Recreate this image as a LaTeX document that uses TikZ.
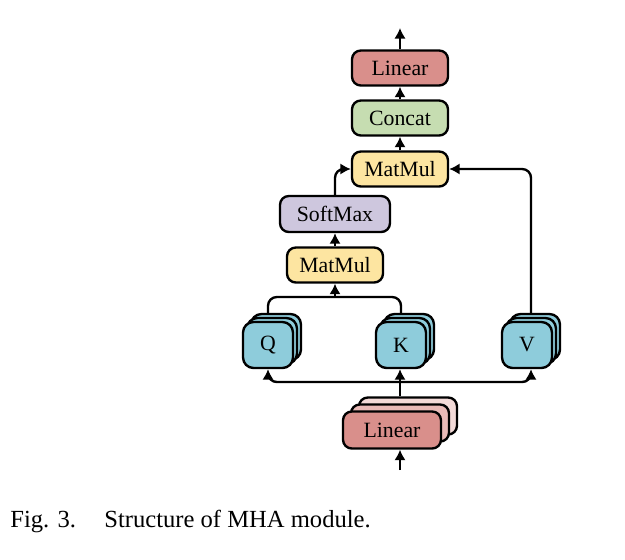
\documentclass[tikz,border=0pt]{standalone}
\usepackage{fontspec}
\setmainfont{Liberation Serif}
\usetikzlibrary{arrows.meta}
\definecolor{cred}{HTML}{D98F8B}
\definecolor{cred2}{HTML}{E9BAB7}
\definecolor{cred3}{HTML}{F3DAD8}
\definecolor{cgreen}{HTML}{C6DDB1}
\definecolor{cyellow}{HTML}{FDE5A1}
\definecolor{cpurple}{HTML}{CEC7DE}
\definecolor{cblue}{HTML}{8ECCDB}
\tikzset{
  blk/.style={draw=black, line width=1.35pt, rounded corners=5pt, inner sep=0pt,
    font=\fontsize{12.4}{14}\selectfont, minimum width=1.92cm, minimum height=0.70cm},
  qkv/.style={blk, fill=cblue, minimum width=1.0cm, minimum height=0.92cm, rounded corners=6pt},
  conn/.style={line width=1.35pt, rounded corners=5pt},
  arr/.style={conn, -{Latex[length=6pt,width=6.5pt]}},
}
\begin{document}
\begin{tikzpicture}[x=0.02cm,y=-0.02cm]
\useasboundingbox (0,0) rectangle (625,559);
% top stack
\node[blk, fill=cred] (lin2) at (400,68) {Linear};
\node[blk, fill=cgreen] (cat) at (400,118) {Concat};
\node[blk, fill=cyellow] (mm2) at (400,169) {MatMul};
\node[blk, fill=cpurple, minimum width=2.2cm, minimum height=0.72cm] (sm) at (335,214) {SoftMax};
\node[blk, fill=cyellow] (mm1) at (335,265) {MatMul};
% Q K V stacks
\foreach \n/\x in {q/268,k/401,v/527}{
  \node[qkv] (\n3) at (\x+8,337) {};
  \node[qkv] (\n2) at (\x+4,341) {};
}
\node[qkv] (q) at (268,345) {Q};
\node[qkv] (k) at (401,345) {K};
\node[qkv] (v) at (527,345) {V};
% bottom linear stack
\node[blk, fill=cred3, minimum width=1.96cm, minimum height=0.74cm] (lin1c) at (408,416) {};
\node[blk, fill=cred2, minimum width=1.96cm, minimum height=0.74cm] (lin1b) at (400,423) {};
\node[blk, fill=cred, minimum width=1.96cm, minimum height=0.74cm] (lin1) at (392,430) {Linear};
\coordinate (in) at (400,470);
\coordinate (out) at (400,28);
\coordinate (split) at (400,382);
\coordinate (merge) at (335,297);
% connectors
\draw[arr] (in) -- (in |- lin1.south);
\draw[arr] (lin1c.north -| in) -- (k.south -| in);
\draw[arr] (split) -| (q.south);
\draw[arr] (split) -| (v.south -| 531,0);
\draw[conn] (q3.north -| q.north) |- (merge) -| (k3.north -| k.north);
\draw[arr] (merge) -- (mm1.south);
\draw[arr] (mm1) -- (sm);
\draw[arr] (sm.north) |- (mm2.west);
\draw[arr] (v3.north -| 531,0) |- (mm2.east);
\draw[arr] (mm2) -- (cat);
\draw[arr] (cat) -- (lin2);
\draw[arr] (lin2) -- (out);
% caption
\node[anchor=base west, inner sep=0pt, font=\fontsize{14}{16}\selectfont] (figl) at (10,527) {Fig. 3.};
\node[anchor=base west, inner sep=0pt, font=\fontsize{14}{16}\selectfont] (cap) at (104,527) {Structure of MHA module.};
\end{tikzpicture}
\end{document}
